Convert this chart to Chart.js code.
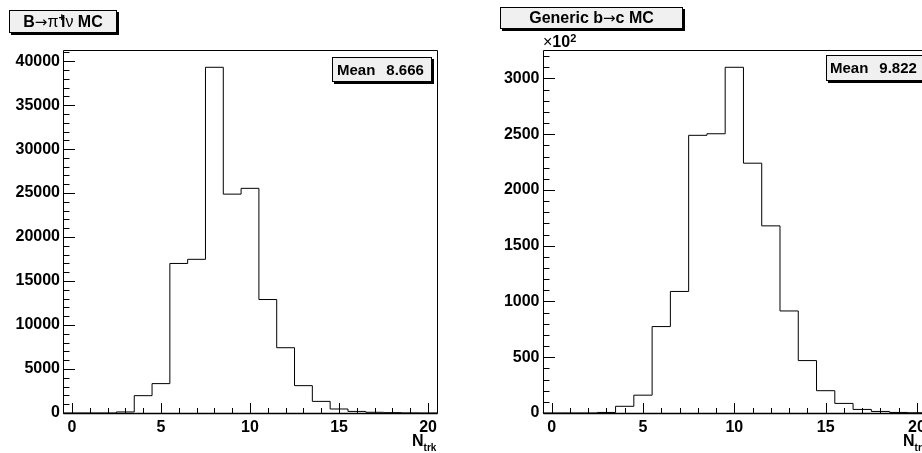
<!DOCTYPE html>
<html><head><meta charset="utf-8">
<script src="https://cdn.jsdelivr.net/npm/chart.js@4.4.1/dist/chart.umd.min.js"></script>
<style>
html,body{margin:0;padding:0;width:922px;height:453px;overflow:hidden;background:#fff;font-family:"Liberation Sans",Arial,sans-serif;color:#000;}
.pane{position:absolute;top:0;}
.box{position:absolute;border:1px solid #000;background:#f0f0f0;box-shadow:2px 2px 0 #000;font-weight:bold;box-sizing:border-box;white-space:nowrap;}
.sym{font-weight:normal;}
.arr{font-weight:normal;font-family:"DejaVu Sans",sans-serif;font-size:15px;}
.lab{position:absolute;font-weight:bold;white-space:nowrap;}
</style></head><body>
<div class="pane" style="left:0;width:461px;height:453px"><canvas id="c1" width="461" height="453"></canvas></div>
<div class="pane" style="left:461px;width:470px;height:453px"><canvas id="c2" width="470" height="453"></canvas></div>

<div class="box" style="left:9px;top:10px;width:108px;height:23px;font-size:16px;line-height:21px;text-align:center;">B<span class="arr">→</span><span class="sym">π</span><sup style="font-size:11px;position:relative;top:-4px;vertical-align:top;margin-right:-4px;">+</sup>l<span class="sym">ν</span> MC</div>
<div class="box" style="left:500px;top:7px;width:183px;height:22px;font-size:16px;line-height:20px;text-align:center;">Generic b<span class="arr">→</span>c MC</div>

<div class="box" id="m1" style="left:332px;top:57px;width:100px;height:25px;font-size:15px;line-height:23px;padding-left:4px;"></div>
<div class="box" id="m2" style="left:826px;top:55px;width:100px;height:26px;font-size:15px;line-height:24px;padding-left:3px;"></div>

<div class="lab" style="left:543px;top:34px;font-size:16px;line-height:16px;"><span class="sym">×</span>10<sup style="font-size:11px;position:relative;top:-4px;vertical-align:top;">2</sup></div>
<div class="lab" style="left:412px;top:433px;font-size:16px;line-height:16px;">N<span style="font-size:10px;position:relative;top:5px;">trk</span></div>
<div class="lab" style="left:903px;top:433px;font-size:16px;line-height:16px;">N<span style="font-size:10px;position:relative;top:5px;">trk</span></div>

<script>
// ---- data ----
const nTrkBins = [0,1,2,3,4,5,6,7,8,9,10,11,12,13,14,15,16,17,18,19,20];
const bToPiLnuCounts = [0,0,0,120,1970,3340,17000,17470,39300,24880,25540,12900,7420,3110,1320,455,180,80,40,10,0];
const genericBcCounts = [0,0,0,5,60,160,775,1090,2490,2504,3100,2240,1678,915,470,200,86,32,14,5,2]; // in units of 10^2
const xTickLabels = [0,5,10,15,20];
const yTickLabelsLeft = [0,5000,10000,15000,20000,25000,30000,35000,40000];
const yTickLabelsRight = [0,500,1000,1500,2000,2500,3000];
const meanLeft = "8.666";
const meanRight = "9.822";

document.getElementById('m1').innerHTML = 'Mean<span style="margin-left:11px">' + meanLeft + '</span>';
document.getElementById('m2').innerHTML = 'Mean<span style="margin-left:11px">' + meanRight + '</span>';

const FONT = {family:'"Liberation Sans", Arial, sans-serif', weight:'bold', size:16};

function histPoints(centers, counts){
  const pts = [{x: centers[0]-0.5, y: 0}];
  centers.forEach((c,i)=>pts.push({x: c-0.5, y: counts[i]}));
  const last = centers[centers.length-1];
  pts.push({x: last+0.5, y: counts[counts.length-1]});
  pts.push({x: last+0.5, y: 0});
  return pts;
}

const rootAxes = {
  id: 'rootAxes',
  afterDatasetsDraw(chart, args, o){
    const {ctx, chartArea:a, scales:{x,y}} = chart;
    const L = Math.round(a.left)+0.5, R = Math.round(a.right)+0.5, T = Math.round(a.top)+0.5, B = Math.round(a.bottom)+0.5;
    ctx.save();
    ctx.strokeStyle = '#000';
    ctx.lineWidth = 1;
    ctx.beginPath();
    ctx.moveTo(L,T); ctx.lineTo(R,T); ctx.lineTo(R,B); ctx.lineTo(L,B); ctx.closePath();
    for (let v = 0; v <= x.max + 1e-9; v += o.xMinor){
      const px = Math.round(x.getPixelForValue(v))+0.5;
      const major = Math.abs(v/o.xMajor - Math.round(v/o.xMajor)) < 1e-6;
      ctx.moveTo(px, B); ctx.lineTo(px, B - (major ? 10.5 : 5.5));
    }
    for (let v = 0; v <= y.max + 1e-9; v += o.yMinor){
      const py = Math.round(y.getPixelForValue(v))+0.5;
      const major = Math.abs(v/o.yMajor - Math.round(v/o.yMajor)) < 1e-6;
      ctx.moveTo(L, py); ctx.lineTo(L + (major ? 11.5 : 6), py);
    }
    ctx.stroke();
    // slightly heavier x axis line, as in the reference
    ctx.beginPath(); ctx.lineWidth = 1.5; ctx.moveTo(L, B); ctx.lineTo(R, B); ctx.stroke();
    ctx.restore();
  }
};

function makeChart(id, counts, yMax, yTicks, yMinor, yMajor, yWidth, padRight){
  return new Chart(document.getElementById(id), {
    type: 'line',
    data: { datasets: [{
      data: histPoints(nTrkBins, counts),
      stepped: true, borderColor: '#000', borderWidth: 1, pointRadius: 0, fill: false, tension: 0
    }]},
    options: {
      responsive: false, animation: false,
      layout: {padding: {left: 0, top: 50, right: padRight, bottom: 0}},
      plugins: {legend: {display: false}, tooltip: {enabled: false}, title: {display: false},
        rootAxes: {xMinor: 1, xMajor: 5, yMinor: yMinor, yMajor: yMajor}},
      scales: {
        x: {type: 'linear', min: -0.5, max: 20.5,
            afterBuildTicks: s => { s.ticks = xTickLabels.map(v => ({value: v})); },
            afterFit: s => { s.height = 40; },
            grid: {display: false, drawTicks: false}, border: {display: false},
            ticks: {autoSkip: false, maxRotation: 0, padding: 5, color: '#000', font: FONT,
                    callback: v => String(v)}},
        y: {type: 'linear', min: 0, max: yMax,
            afterBuildTicks: s => { s.ticks = yTicks.map(v => ({value: v})); },
            afterFit: s => { s.width = yWidth; },
            grid: {display: false, drawTicks: false}, border: {display: false},
            ticks: {autoSkip: false, padding: 3, color: '#000', font: FONT,
                    callback: v => String(v)}}
      }
    },
    plugins: [rootAxes]
  });
}

makeChart('c1', bToPiLnuCounts, 41265, yTickLabelsLeft, 1000, 5000, 63, 24);
makeChart('c2', genericBcCounts, 3255, yTickLabelsRight, 100, 500, 81.5, 4);
</script>
</body></html>
